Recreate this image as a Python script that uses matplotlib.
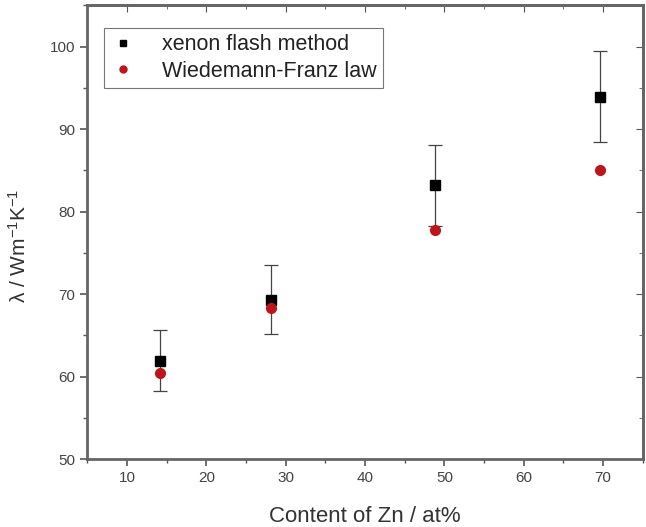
import matplotlib.pyplot as plt
from matplotlib.lines import Line2D
import numpy as np

plt.rcParams['font.family'] = ['Liberation Sans', 'DejaVu Sans']
plt.rcParams['mathtext.default'] = 'regular'

# data
zn_content = [14.2, 28.1, 48.8, 69.6]
xenon_flash = [61.9, 69.3, 83.2, 93.9]
xenon_err = [3.7, 4.2, 4.9, 5.5]
wiedemann_franz = [60.4, 68.3, 77.8, 85.0]

fig = plt.figure(figsize=(6.46, 5.27), dpi=100)
ax = fig.add_axes([0.135, 0.129, 0.86, 0.861])

ax.errorbar(zn_content, xenon_flash, yerr=xenon_err, fmt='s', color='black',
            ms=7, ecolor='#444444', elinewidth=0.9, capsize=5, capthick=0.9,
            zorder=3)
ax.plot(zn_content, wiedemann_franz, 'o', color='#c0141c', ms=7, zorder=4)

ax.set_xlim(5, 75)
ax.set_ylim(50, 105)
ax.set_xticks(np.arange(10, 71, 10))
ax.set_xticks(np.arange(5, 76, 5), minor=True)
ax.set_yticks(np.arange(50, 101, 10))
ax.set_yticks(np.arange(50, 106, 5), minor=True)

ax.tick_params(which='both', direction='out', colors='#555555', labelcolor='#444444',
               labelsize=11)
ax.tick_params(which='major', length=5, width=1.2)
ax.tick_params(which='minor', length=3, width=1)
# inward ticks on top and right
ax2 = ax.secondary_xaxis('top')
ax2.set_xticks(np.arange(10, 71, 10))
ax2.set_xticks(np.arange(5, 76, 5), minor=True)
ax2.tick_params(which='both', direction='in', labeltop=False, colors='#555555')
ax2.tick_params(which='major', length=5)
ax2.tick_params(which='minor', length=3)
ax3 = ax.secondary_yaxis('right')
ax3.set_yticks(np.arange(50, 101, 10))
ax3.set_yticks(np.arange(50, 106, 5), minor=True)
ax3.tick_params(which='both', direction='in', labelright=False, colors='#555555')
ax3.tick_params(which='major', length=5)
ax3.tick_params(which='minor', length=3)

for a in (ax, ax2, ax3):
    for sp in a.spines.values():
        sp.set_color('#666666')
        sp.set_linewidth(2)

ax.set_xlabel('Content of Zn / at%', fontsize=16, color='#333333')
ax.xaxis.set_label_coords(0.5, -0.104)
ax.set_ylabel(r'λ / Wm$^{-1}$K$^{-1}$', fontsize=15, color='#333333')
ax.yaxis.set_label_coords(-0.103, 0.47)

handles = [
    Line2D([], [], ls='none', marker='s', color='black', ms=5),
    Line2D([], [], ls='none', marker='o', color='#c0141c', ms=5),
]
leg = ax.legend(handles, ['xenon flash method', 'Wiedemann-Franz law'],
                loc='upper left', bbox_to_anchor=(0.03, 0.95), fontsize=15.5,
                frameon=True, fancybox=False, handlelength=1.2, handletextpad=1.2,
                borderpad=0.3, labelspacing=0.25, borderaxespad=0)
leg.get_frame().set_edgecolor('#555555')
leg.get_frame().set_linewidth(0.8)
for t in leg.get_texts():
    t.set_color('#222222')

fig.savefig('out.png', dpi=100)
